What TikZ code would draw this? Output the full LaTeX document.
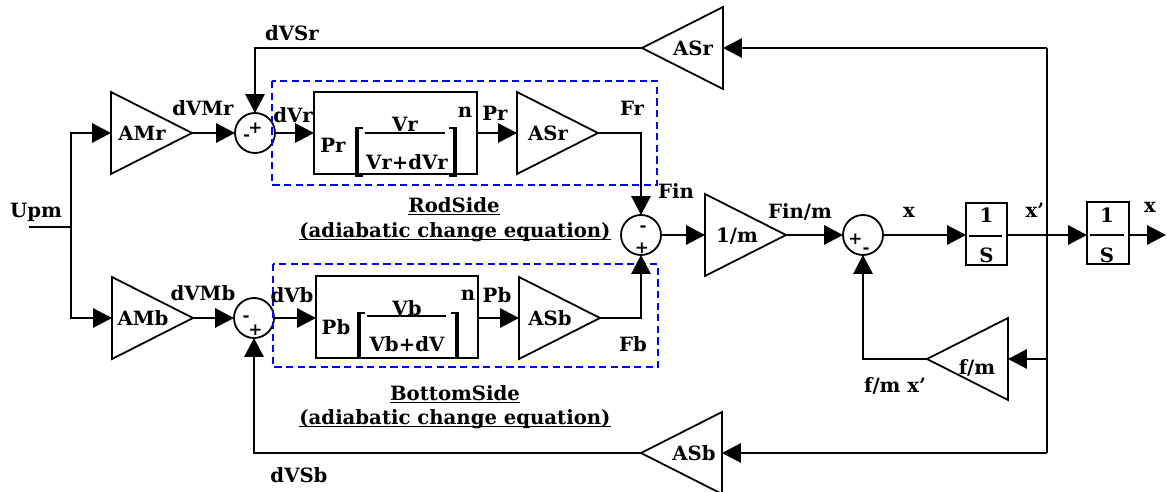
\documentclass[tikz,border=0pt]{standalone}
\usepackage{fontspec}
\setmainfont{DejaVu Serif}
\usetikzlibrary{positioning,arrows.meta,shapes.geometric,calc}

\begin{document}
\begin{tikzpicture}[x=0.25mm,y=-0.25mm,line width=0.45mm,
  font=\bfseries\fontsize{14}{16}\selectfont,
  >={Triangle[length=4.7mm,width=4.8mm]},
  amp/.style={draw,isosceles triangle,isosceles triangle stretches,minimum width=20.5mm,minimum height=20.25mm,inner sep=0,outer sep=0},
  ampl/.style={amp,shape border rotate=180},
  sumj/.style={draw,circle,minimum size=10mm,inner sep=0,outer sep=0},
  blk/.style={draw,inner sep=0,outer sep=0},
  grp/.style={draw=blue,dash pattern=on 1.8mm off 1.1mm},
  lb/.style={inner sep=0,text height=3.6mm,text depth=0pt},
  sg/.style={inner sep=0,font=\bfseries\fontsize{12}{14}\selectfont}]
\useasboundingbox (0,0) rectangle (1167,492);

% blocks
\coordinate (upm) at (29,227);
\coordinate (split) at (71,227);
\node[amp,anchor=lower side] (amr) at (111,133) {};
\node[amp,anchor=lower side] (amb) at (112,318) {};
\node[sumj] (sr) at (255,133) {};
\node[sumj] (sb) at (254,318) {};
\node[blk,minimum width=40.75mm,minimum height=20.5mm] (prb) at (395.5,133) {};
\node[blk,minimum width=40.5mm,minimum height=20.5mm] (pbb) at (397,317) {};
\node[amp,anchor=lower side] (asr) at (517,133) {};
\node[amp,anchor=lower side] (asb) at (519,318) {};
\node[sumj] (sf) at (641,235) {};
\node[amp,anchor=lower side] (onem) at (705,235) {};
\node[sumj] (sx) at (863,235) {};
\node[blk,minimum width=10.25mm,minimum height=15.5mm] (int1) at (986.5,234) {};
\node[blk,minimum width=10.5mm,minimum height=15.5mm] (int2) at (1108,233) {};
\node[ampl,anchor=lower side] (fm) at (1008,359) {};
\node[ampl,anchor=lower side] (asrf) at (723,48) {};
\node[ampl,anchor=lower side] (asbf) at (722,453) {};
\coordinate (xo) at (1166,235);
\coordinate (jx) at (1047,235);
\coordinate (tr) at (1047,48);
\coordinate (fmr) at (1047,359);
\coordinate (br) at (1047,453);

% dashed groups
\draw[grp] (272,81) rectangle (657,185);
\draw[grp] (273,264) rectangle (658,367);

% block texts
\node[lb] (amr-l) at ([xshift=7.75mm]amr.lower side) {AMr};
\node[lb] (amb-l) at ([xshift=7.75mm]amb.lower side) {AMb};
\node[lb] (asr-l) at ([xshift=7.75mm]asr.lower side) {ASr};
\node[lb] (asb-l) at ([xshift=7.75mm]asb.lower side) {ASb};
\node[lb] (onem-l) at ([xshift=8mm]onem.lower side) {1/m};
\node[lb] (fm-l) at ([xshift=-7.75mm,yshift=-2mm]fm.lower side) {f/m};
\node[lb] (asrf-l) at ([xshift=-7.5mm]asrf.lower side) {ASr};
\node[lb] (asbf-l) at ([xshift=-7mm]asbf.lower side) {ASb};

% pressure equations
\node[lb] (prp-l) at (333,145) {Pr};
\node[lb,anchor=base] (vrn-l) at (405,132) {Vr};
\node[lb] (vrd-l) at (407,162) {Vr+dVr};
\draw[line width=0.4mm] (365,133) -- (445,133);
\node[lb] (pbp-l) at (336,327) {Pb};
\node[lb,anchor=base] (vbn-l) at (407,316) {Vb};
\node[lb] (vbd-l) at (407,344) {Vb+dV};
\draw[line width=0.4mm] (367,316) -- (446,316);
\foreach \xl/\xr/\yt/\yb in {357/455/128/176, 359/457/313/358}{
  \draw[line width=1.2mm] (\xl,\yt) -- (\xl,\yb);
  \draw[line width=1.2mm] (\xr,\yt) -- (\xr,\yb);
  \draw (\xl-2,\yt) -- (\xl+6,\yt) (\xl-2,\yb) -- (\xl+6,\yb);
  \draw (\xr-6,\yt) -- (\xr+2,\yt) (\xr-6,\yb) -- (\xr+2,\yb);
}

% integrators
\node[lb] (i1n-l) at (986.5,215) {1};
\node[lb] (i1d-l) at (986.5,255) {S};
\draw[line width=0.4mm] (969,236) -- (1002,236);
\node[lb] (i2n-l) at (1107,215) {1};
\node[lb] (i2d-l) at (1107,255) {S};
\draw[line width=0.4mm] (1090,235) -- (1124,235);

% signs
\node[sg] at ([shift={(0.5,-5)}]sr.center) {+};
\node[sg] at ([shift={(-8.5,5)}]sr.center) {-};
\node[sg] at ([shift={(-8,1)}]sb.center) {-};
\node[sg] at ([shift={(1.5,12)}]sb.center) {+};
\node[sg] at ([shift={(2,-6)}]sf.center) {-};
\node[sg] at ([shift={(1,13)}]sf.center) {+};
\node[sg] at ([shift={(-7.5,4)}]sx.center) {+};
\node[sg] at ([shift={(3,16)}]sx.center) {-};

% connectors
\draw (upm) -- (split);
\draw[->] (split) |- (amr.lower side);
\draw[->] (split) |- (amb.lower side);
\draw[->] (amr.apex) -- (sr.west);
\draw[->] (amb.apex) -- (sb.west);
\draw[->] (sr.east) -- (sr.east -| prb.west);
\draw[->] (sb.east) -- (sb.east -| pbb.west);
\draw[->] (prb.east) -- (asr.lower side);
\draw[->] (pbb.east |- asb.lower side) -- (asb.lower side);
\draw[->] (asr.apex) -| (sf.north);
\draw[->] (asb.apex) -| (sf.south);
\draw[->] (sf.east) -- (onem.lower side);
\draw[->] (onem.apex) -- (sx.west);
\draw[->] (sx.east) -- (sx.east -| int1.west);
\draw[->] (int1.east |- jx) -- (jx -| int2.west);
\draw[->] (int2.east |- xo) -- (xo);
\draw (tr) -- (br);
\draw[->] (tr) -- (asrf.lower side);
\draw[->] (fmr) -- (fm.lower side);
\draw[->] (br) -- (asbf.lower side);
\draw[->] (asrf.apex) -| (sr.north);
\draw[->] (asbf.apex) -| (sb.south);
\draw[->] (fm.apex) -| (sx.south);

% signal labels
\node[lb] (upm-l) at (36,210) {Upm};
\node[lb] (dvsr-l) at (292,33) {dVSr};
\node[lb] (dvmr-l) at (203,108) {dVMr};
\node[lb] (dvr-l) at (293,115) {dVr};
\node[lb] (nr-l) at (465,110) {n};
\node[lb] (pr-l) at (495,113) {Pr};
\node[lb] (fr-l) at (632,108) {Fr};
\node[lb] (fin-l) at (676,191) {Fin};
\node[lb] (rod-l) at (454,205) {\underline{\smash{RodSide}}};
\node[lb] (rodeq-l) at (455,230) {\underline{\smash{(adiabatic change equation)}}};
\node[lb] (finm-l) at (800,211) {Fin/m};
\node[lb] (x-l) at (909,210) {x};
\node[lb] (xd-l) at (1035,210) {x'};
\node[lb] (xo-l) at (1150,205) {x};
\node[lb] (fmx-l) at (895,385) {f/m x'};
\node[lb] (dvmb-l) at (203,293) {dVMb};
\node[lb] (dvb-l) at (292,295) {dVb};
\node[lb] (nb-l) at (468,293) {n};
\node[lb] (pb-l) at (497,295) {Pb};
\node[lb] (fb-l) at (633,344) {Fb};
\node[lb] (bot-l) at (455,393) {\underline{\smash{BottomSide}}};
\node[lb] (boteq-l) at (455,417) {\underline{\smash{(adiabatic change equation)}}};
\node[lb] (dvsb-l) at (299,475) {dVSb};
\end{tikzpicture}
\end{document}
